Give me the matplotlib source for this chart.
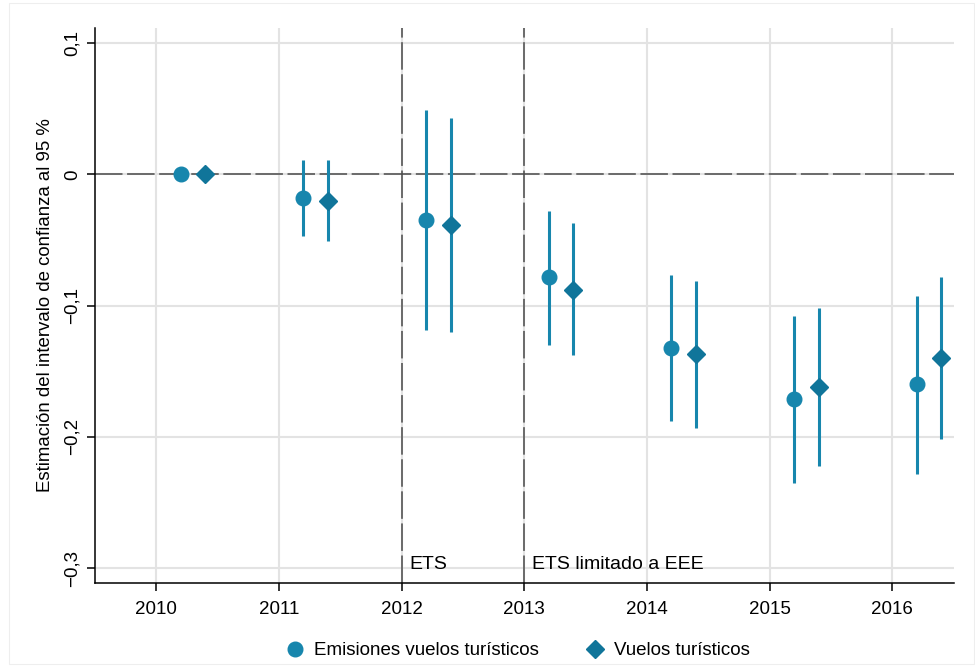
import numpy as np
import matplotlib.pyplot as plt
from matplotlib.lines import Line2D
from matplotlib.patches import Rectangle

plt.rcParams['font.family'] = ['Liberation Sans', 'DejaVu Sans']

years = [2010, 2011, 2012, 2013, 2014, 2015, 2016]

# Emisiones vuelos turísticos (círculos)
emis_est = [0.0, -0.018, -0.035, -0.078, -0.132, -0.171, -0.160]
emis_lo = [0.0, -0.047, -0.119, -0.130, -0.188, -0.235, -0.228]
emis_hi = [0.0, 0.011, 0.049, -0.028, -0.077, -0.108, -0.093]

# Vuelos turísticos (rombos)
vuel_est = [0.0, -0.020, -0.039, -0.088, -0.137, -0.162, -0.140]
vuel_lo = [0.0, -0.051, -0.120, -0.138, -0.193, -0.222, -0.202]
vuel_hi = [0.0, 0.011, 0.043, -0.037, -0.081, -0.102, -0.078]

yticks = [0.1, 0, -0.1, -0.2, -0.3]
ytick_labels = ['0,1', '0', '\u22120,1', '\u22120,2', '\u22120,3']

c_circ = '#1786ad'
c_diam = '#10759a'

fig = plt.figure(figsize=(9.75, 6.67), dpi=100)
fig.patches.append(Rectangle((0.009, 0.005), 0.99, 0.99, transform=fig.transFigure,
                             fill=False, edgecolor='#eeeeee', linewidth=0.8))
ax = fig.add_axes([0.0974, 0.1259, 0.8806, 0.832])

x = np.array(years)
ax.vlines(x + 0.2, emis_lo, emis_hi, color=c_circ, linewidth=2.2, zorder=3)
ax.vlines(x + 0.4, vuel_lo, vuel_hi, color=c_circ, linewidth=2.2, zorder=3)
ax.plot(x + 0.2, emis_est, 'o', color=c_circ, markersize=10.5, linestyle='none', zorder=4)
ax.plot(x + 0.4, vuel_est, 'D', color=c_diam, markersize=9.2, linestyle='none', zorder=4)

ax.axhline(0, color='#4a4a4a', linewidth=1.1, dashes=(18, 3), zorder=2)
for yr in (2012, 2013):
    ax.axvline(yr, color='#4a4a4a', linewidth=1.1, dashes=(18, 3), zorder=2)

ax.text(2012.06, -0.297, 'ETS', fontsize=14, va='center', ha='left')
ax.text(2013.06, -0.297, 'ETS limitado a EEE', fontsize=14, va='center', ha='left')

ax.set_xlim(2009.5, 2016.5)
ax.set_ylim(-0.3114, 0.1114)
ax.set_xticks(years)
ax.set_xticklabels([str(y) for y in years], fontsize=13.5)
ax.set_yticks(yticks)
ax.set_yticklabels(ytick_labels, fontsize=13.5, rotation=90, va='center')
ax.grid(True, color='#e3e3e3', linewidth=1.5, zorder=0)
ax.set_axisbelow(True)
for s in ('top', 'right'):
    ax.spines[s].set_visible(False)
for s in ('left', 'bottom'):
    ax.spines[s].set_linewidth(1.1)
ax.tick_params(axis='both', direction='out', length=6, width=1.1, pad=4)
ax.tick_params(axis='x', pad=7)
ax.set_ylabel('Estimación del intervalo de confianza al 95 %', fontsize=13.4, labelpad=7)

handles = [
    Line2D([], [], marker='o', color=c_circ, linestyle='none', markersize=10.5),
    Line2D([], [], marker='D', color=c_diam, linestyle='none', markersize=9.2),
]
fig.legend(handles, ['Emisiones vuelos turísticos', 'Vuelos turísticos'],
           loc='lower center', bbox_to_anchor=(0.53, -0.014), ncol=2, frameon=False,
           fontsize=13.5, handlelength=1.2, handletextpad=0.4, columnspacing=2.4)

fig.savefig('out.png', dpi=100)
